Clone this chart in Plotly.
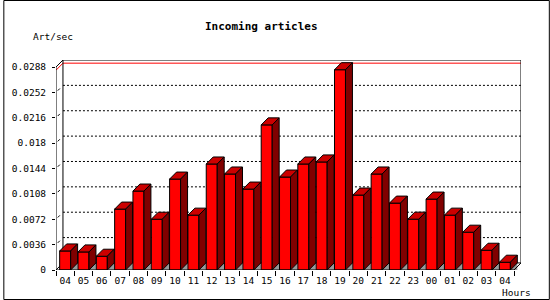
import plotly.graph_objects as go

# ---- data ----
hours = ["04", "05", "06", "07", "08", "09", "10", "11", "12", "13", "14", "15", "16",
         "17", "18", "19", "20", "21", "22", "23", "00", "01", "02", "03", "04"]
rate = [0.0027, 0.00256, 0.00195, 0.00864, 0.0112, 0.0072, 0.0129, 0.00778, 0.01504,
        0.01362, 0.01148, 0.02059, 0.01319, 0.01504, 0.01533, 0.02842, 0.01063, 0.01362,
        0.00949, 0.00721, 0.01006, 0.00778, 0.00536, 0.0028, 0.0011]
y_ticks = [0, 0.0036, 0.0072, 0.0108, 0.0144, 0.018, 0.0216, 0.0252, 0.0288]
y_tick_text = ["0", "0.0036", "0.0072", "0.0108", "0.0144", "0.018", "0.0216", "0.0252", "0.0288"]

# ---- 3D geometry (styles) ----
HALF = 0.3     # half width of front face, in bar units
DX = 0.38      # depth offset x (bar units)
DY = 0.001     # depth offset y (value units)
YMAX = y_ticks[-1]
xs = list(range(len(rate)))
X0, X1 = -0.5, len(rate) - 0.5
FONT = "DejaVu Sans Mono"


def polys(fn):
    X, Y = [], []
    for x, v in zip(xs, rate):
        px, py = fn(x, v)
        X += px + [px[0], None]
        Y += py + [py[0], None]
    return X, Y


def front(x, v):
    return [x - HALF, x + HALF, x + HALF, x - HALF], [0, 0, v, v]


def top(x, v):
    return [x - HALF, x + HALF, x + HALF + DX, x - HALF + DX], [v, v, v + DY, v + DY]


def side(x, v):
    return [x + HALF, x + HALF + DX, x + HALF + DX, x + HALF], [0, DY, v + DY, v]


def shadow(x, v):
    return [x + HALF, x + HALF + DX, x + HALF + DX], [0, DY, 0]


fig = go.Figure()
sx, sy = polys(shadow)
fig.add_trace(go.Scatter(x=sx, y=sy, mode="lines", fill="toself", fillcolor="#999999",
                         line=dict(width=0, color="#999999"), hoverinfo="skip"))
for fn, col in [(front, "#FF0000"), (top, "#CC0000"), (side, "#800000")]:
    px, py = polys(fn)
    fig.add_trace(go.Scatter(x=px, y=py, mode="lines", fill="toself", fillcolor=col,
                             line=dict(width=1, color="black"), hoverinfo="skip"))

shapes = []
# dotted gridlines on back wall
for v in y_ticks[1:-1]:
    shapes.append(dict(type="line", xref="x", yref="y", x0=X0 + DX, x1=X1 + DX,
                       y0=v + DY, y1=v + DY, layer="below",
                       line=dict(color="black", width=1, dash="2px,2px")))
    # short diagonal tick mark
    shapes.append(dict(type="line", xref="x", yref="y", x0=X0 + DX * 0.25, x1=X0 + DX * 0.55,
                       y0=v + DY * 0.25, y1=v + DY * 0.55, layer="below",
                       line=dict(color="black", width=1)))
# red line near top
RED = YMAX + DY * 0.55
shapes.append(dict(type="line", xref="x", yref="y", x0=X0 + DX, x1=X1 + DX, y0=RED, y1=RED,
                   layer="below", line=dict(color="#FF0000", width=1)))
shapes.append(dict(type="line", xref="x", yref="y", x0=X0, x1=X0 + DX, y0=RED - DY, y1=RED,
                   layer="below", line=dict(color="#FF0000", width=1)))
# back wall frame
shapes.append(dict(type="rect", xref="x", yref="y", x0=X0 + DX, x1=X1 + DX, y0=DY, y1=YMAX + DY,
                   layer="below", line=dict(color="black", width=1)))
# top-left diagonal
shapes.append(dict(type="line", xref="x", yref="y", x0=X0, x1=X0 + DX, y0=YMAX, y1=YMAX + DY,
                   layer="below", line=dict(color="black", width=1)))
# bottom-left diagonal
shapes.append(dict(type="line", xref="x", yref="y", x0=X0, x1=X0 + DX, y0=0, y1=DY,
                   layer="below", line=dict(color="black", width=1)))
# front axis line
shapes.append(dict(type="line", xref="x", yref="y", x0=X0, x1=X0, y0=0, y1=YMAX,
                   layer="above", line=dict(color="black", width=1)))
# front floor line
shapes.append(dict(type="line", xref="x", yref="y", x0=X0, x1=X1, y0=0, y1=0,
                   layer="above", line=dict(color="black", width=1)))
# bottom-right diagonal
shapes.append(dict(type="line", xref="x", yref="y", x0=X1, x1=X1 + DX, y0=0, y1=DY,
                   layer="above", line=dict(color="black", width=1)))

W, H = 550, 300
ML, MR, MT, MB = 53, 29, 60, 30
pw, ph = W - ML - MR, H - MT - MB
# outer image border
shapes.append(dict(type="rect", xref="paper", yref="paper",
                   x0=(0.5 - ML) / pw, x1=(W - 0.5 - ML) / pw,
                   y0=(0.5 - MB) / ph, y1=(H - 0.5 - MB) / ph,
                   line=dict(color="black", width=1), layer="above"))

fig.update_layout(
    width=W, height=H,
    margin=dict(l=ML, r=MR, t=MT, b=MB, pad=0),
    paper_bgcolor="white", plot_bgcolor="white",
    showlegend=False,
    shapes=shapes,
    font=dict(family=FONT, size=9.5, color="black"),
    xaxis=dict(range=[X0, X1 + DX], showgrid=False, zeroline=False, showline=False,
               tickmode="array", tickvals=xs, ticktext=hours, ticks="",
               ticklabelstandoff=3,
               tickfont=dict(family=FONT, size=9.5, color="black"),
               minor=dict(tickmode="linear", tick0=-0.5, dtick=1, ticks="outside",
                          ticklen=5, tickcolor="black", tickwidth=1, showgrid=False),
               fixedrange=True),
    yaxis=dict(range=[0, YMAX + DY], showgrid=False, zeroline=False, showline=False,
               tickmode="array", tickvals=y_ticks, ticktext=y_tick_text,
               ticks="outside", ticklen=3, tickcolor="black", tickwidth=1,
               ticklabelstandoff=4,
               tickfont=dict(family=FONT, size=9.5, color="black"),
               fixedrange=True),
    annotations=[
        dict(text="<b>Incoming articles</b>", xref="paper", yref="paper",
             x=(260 - ML) / pw, y=(H - 27 - MB) / ph, xanchor="center", yanchor="middle",
             showarrow=False, font=dict(family=FONT, size=11, color="black")),
        dict(text="Art/sec", xref="paper", yref="paper",
             x=(28 - ML) / pw, y=(H - 37 - MB) / ph, xanchor="left", yanchor="middle",
             showarrow=False, font=dict(family=FONT, size=9.5, color="black")),
        dict(text="Hours", xref="paper", yref="paper",
             x=(533 - ML) / pw, y=(H - 292 - MB) / ph, xanchor="right", yanchor="middle",
             showarrow=False, font=dict(family=FONT, size=9.5, color="black")),
    ],
)

fig.write_html("out.html")
